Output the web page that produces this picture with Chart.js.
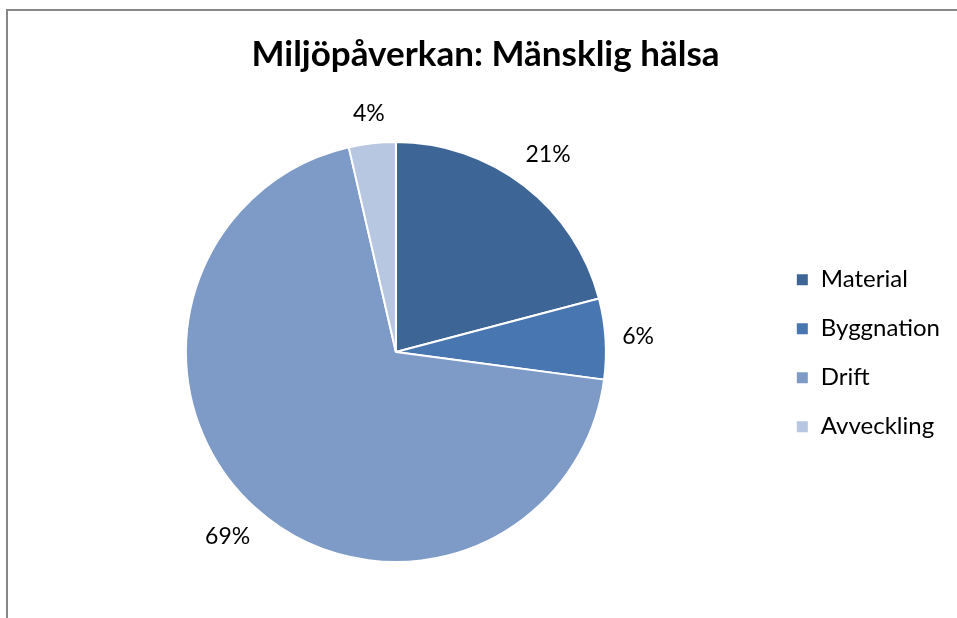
<!DOCTYPE html>
<html>
<head>
<meta charset="utf-8">
<script src="https://cdn.jsdelivr.net/npm/chart.js@4/dist/chart.umd.min.js"></script>
<style>
  html, body { margin: 0; padding: 0; background: #fff; }
  #wrap { width: 957px; height: 618px; }
</style>
</head>
<body>
<div id="wrap"><canvas id="grafico" width="957" height="618"></canvas></div>
<script>
// datos del grafico
const titulo = "Miljöpåverkan: Mänsklig hälsa";
const categorias = ["Material", "Byggnation", "Drift", "Avveckling"];
const valores = [20.9, 6.2, 69.3, 3.6];
const etiquetas = ["21%", "6%", "69%", "4%"];
const colores = ["#3d6596", "#4876b1", "#7e9bc8", "#b7c6e1"];

const fuente = "Lato, 'Open Sans', sans-serif";

// marco gris del grafico
const marco = {
  id: "marco",
  beforeDraw(chart) {
    const ctx = chart.ctx;
    ctx.save();
    ctx.strokeStyle = "#878787";
    ctx.lineWidth = 2;
    ctx.beginPath();
    ctx.moveTo(7, chart.height);
    ctx.lineTo(7, 10);
    ctx.lineTo(chart.width, 10);
    ctx.stroke();
    ctx.restore();
  },
};

// porcentajes fuera de cada tajada
const porcentajes = {
  id: "porcentajes",
  afterDatasetsDraw(chart) {
    const ctx = chart.ctx;
    const meta = chart.getDatasetMeta(0);
    ctx.save();
    ctx.fillStyle = "#000";
    ctx.font = "23px " + fuente;
    ctx.textAlign = "center";
    ctx.textBaseline = "middle";
    meta.data.forEach((arc, i) => {
      const p = arc.getProps(["x", "y", "startAngle", "endAngle", "outerRadius"], true);
      const mid = (p.startAngle + p.endAngle) / 2;
      const c = Math.cos(mid);
      const s = Math.sin(mid);
      const w = ctx.measureText(etiquetas[i]).width;
      const r = p.outerRadius + 16 + Math.abs(c) * w / 2 + Math.abs(s) * 12;
      ctx.fillText(etiquetas[i], p.x + c * r, p.y + s * r);
    });
    ctx.restore();
  },
};

const canvas = document.getElementById("grafico");

new Chart(canvas, {
  type: "pie",
  data: {
    labels: categorias,
    datasets: [
      {
        data: valores,
        backgroundColor: colores,
        borderColor: "#ffffff",
        borderWidth: 2,
        hoverOffset: 0,
        radius: 210,
      },
    ],
  },
  options: {
    responsive: false,
    animation: false,
    layout: { padding: { left: 21, right: 7, top: 0, bottom: 56 } },
    plugins: {
      title: {
        display: true,
        text: titulo,
        color: "#000",
        font: { family: fuente, size: 35, weight: "bold" },
        padding: { top: 34, bottom: 66 },
      },
      legend: {
        position: "right",
        title: {
          display: true,
          text: " ",
          font: { family: fuente, size: 22 },
          padding: { top: 59, bottom: 59 },
        },
        labels: {
          color: "#000",
          font: { family: fuente, size: 24 },
          boxWidth: 13,
          boxHeight: 13,
          padding: 25,
        },
      },
      tooltip: { enabled: false },
    },
  },
  plugins: [marco, porcentajes],
});
</script>
</body>
</html>
